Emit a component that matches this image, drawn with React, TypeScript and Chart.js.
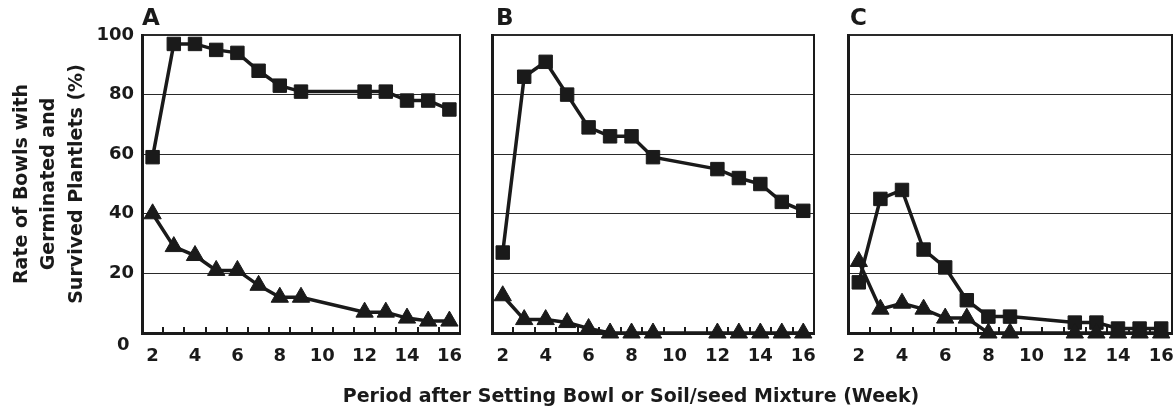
import React, { useEffect, useRef } from 'react';
import { Chart, registerables } from 'chart.js';

Chart.register(...registerables);

// ---------- data ----------
const weeks = [2, 3, 4, 5, 6, 7, 8, 9, 12, 13, 14, 15, 16];
const weekCategories = [2, 3, 4, 5, 6, 7, 8, 9, 10, 11, 12, 13, 14, 15, 16];
const xTickLabels = [2, 4, 6, 8, 10, 12, 14, 16];
const yTickValues = [0, 20, 40, 60, 80, 100];
const panelLabels = ['A', 'B', 'C'];

const squaresA = [59, 97, 97, 95, 94, 88, 83, 81, 81, 81, 78, 78, 75];
const trianglesA = [40, 29, 26, 21, 21, 16, 12, 12, 7, 7, 5, 4, 4];

const squaresB = [27, 86, 91, 80, 69, 66, 66, 59, 55, 52, 50, 44, 41];
const trianglesB = [12.5, 4.5, 4.5, 3.5, 1.5, 0, 0, 0, 0, 0, 0, 0, 0];

const squaresC = [17, 45, 48, 28, 22, 11, 5.5, 5.5, 3.5, 3.5, 1.5, 1.5, 1.5];
const trianglesC = [24, 8, 10, 8, 5, 5, 0, 0, 0, 0, 0, 0, 0];

const yAxisTitle = ['Rate of Bowls with', 'Germinated and', 'Survived Plantlets (%)'];
const xAxisTitle = 'Period after Setting Bowl or Soil/seed Mixture (Week)';

// ---------- style ----------
const FONT = "'DejaVu Sans', 'Liberation Sans', Arial, sans-serif";
const INK = '#1a1a1a';

const framePlugin = {
  id: 'frame',
  beforeDatasetsDraw(chart: any) {
    const { ctx, chartArea: a, scales } = chart;
    const x = scales.x;
    ctx.save();
    ctx.strokeStyle = INK;
    ctx.lineWidth = 2;
    ctx.beginPath();
    ctx.moveTo(a.right, a.top - 1);
    ctx.lineTo(a.right, a.bottom);
    ctx.stroke();
    ctx.beginPath();
    for (let i = 0; i < weekCategories.length - 1; i++) {
      const px = Math.round(x.getPixelForValue(weekCategories[i] + 0.5));
      ctx.moveTo(px, a.bottom);
      ctx.lineTo(px, a.bottom - 6);
    }
    ctx.stroke();
    ctx.restore();
  },
};

type PanelProps = {
  squares: number[];
  triangles: number[];
  left: number;
  width: number;
  yWidth: number;
  padRight: number;
  showY: boolean;
};

function Panel({ squares, triangles, left, width, yWidth, padRight, showY }: PanelProps) {
  const ref = useRef<HTMLCanvasElement>(null);
  useEffect(() => {
    if (!ref.current) return;
    const tickFont = { family: FONT, size: 18, weight: 'bold' as const };
    const chart = new Chart(ref.current, {
      type: 'line',
      data: {
        datasets: [
          {
            data: weeks.map((w, i) => ({ x: w, y: triangles[i] })),
            borderColor: INK,
            backgroundColor: INK,
            borderWidth: 3.5,
            pointStyle: 'triangle',
            pointRadius: 10,
            pointBorderWidth: 1,
            pointBackgroundColor: INK,
            pointBorderColor: INK,
            tension: 0,
            clip: false as any,
          },
          {
            data: weeks.map((w, i) => ({ x: w, y: squares[i] })),
            borderColor: INK,
            backgroundColor: INK,
            borderWidth: 3.5,
            pointStyle: 'rect',
            pointRadius: 9.5,
            pointBorderWidth: 1,
            pointBackgroundColor: INK,
            pointBorderColor: INK,
            tension: 0,
            clip: false as any,
          },
        ],
      },
      options: {
        animation: false,
        responsive: false,
        maintainAspectRatio: false,
        events: [],
        layout: { autoPadding: false, padding: { top: 35, bottom: 37, left: 0, right: padRight } },
        plugins: {
          legend: { display: false },
          tooltip: { enabled: false },
          title: { display: false },
        },
        scales: {
          x: {
            type: 'linear',
            min: 1.5,
            max: 16.5,
            afterBuildTicks: (s: any) => {
              s.ticks = xTickLabels.map((v) => ({ value: v }));
            },
            afterFit: (s: any) => {
              s.height = 40;
              s.paddingLeft = 0;
              s.paddingRight = 0;
            },
            grid: { display: false, drawTicks: false },
            border: { display: true, width: 3, color: INK },
            ticks: {
              font: tickFont,
              color: INK,
              padding: 13,
              autoSkip: false,
              maxRotation: 0,
              callback: (v: any) => String(v),
            },
          },
          y: {
            type: 'linear',
            min: 0,
            max: 100,
            afterBuildTicks: (s: any) => {
              s.ticks = yTickValues.map((v) => ({ value: v }));
            },
            afterFit: (s: any) => {
              s.width = yWidth;
              s.paddingTop = 0;
              s.paddingBottom = 0;
            },
            grid: {
              color: '#2a2a2a',
              lineWidth: (c: any) => (c.tick && c.tick.value === 100 ? 2 : 1),
              drawTicks: false,
            },
            border: { display: true, width: 3, color: INK },
            ticks: {
              display: showY,
              padding: 8,
              font: tickFont,
              color: (c: any) => (c.tick && c.tick.value === 0 ? 'rgba(0,0,0,0)' : INK),
            },
            title: {
              display: showY,
              text: yAxisTitle,
              color: INK,
              font: { family: FONT, size: 19, weight: 'bold', lineHeight: 1.45 },
              padding: { top: 8, bottom: 0 },
            },
          },
        },
      },
      plugins: [framePlugin],
    });
    return () => chart.destroy();
  }, [squares, triangles, yWidth, padRight, showY]);

  return (
    <canvas
      ref={ref}
      width={width}
      height={410}
      style={{ position: 'absolute', left, top: 0, width, height: 410, display: 'block' }}
    />
  );
}

const letterStyle: React.CSSProperties = {
  position: 'absolute',
  top: 6,
  fontFamily: FONT,
  fontWeight: 'bold',
  fontSize: 23,
  lineHeight: '23px',
  color: INK,
  margin: 0,
};

export default function App() {
  return (
    <div
      style={{
        position: 'absolute',
        left: 0,
        top: 0,
        width: 1176,
        height: 410,
        background: '#ffffff',
        overflow: 'hidden',
      }}
    >
      <Panel squares={squaresA} triangles={trianglesA} left={0} width={470} yWidth={142} padRight={10} showY={true} />
      <Panel squares={squaresB} triangles={trianglesB} left={480} width={345} yWidth={12} padRight={11} showY={false} />
      <Panel squares={squaresC} triangles={trianglesC} left={836} width={340} yWidth={12} padRight={4} showY={false} />

      <div style={{ ...letterStyle, left: 142 }}>{panelLabels[0]}</div>
      <div style={{ ...letterStyle, left: 496 }}>{panelLabels[1]}</div>
      <div style={{ ...letterStyle, left: 850 }}>{panelLabels[2]}</div>

      <div
        style={{
          position: 'absolute',
          left: 117,
          top: 335,
          fontFamily: FONT,
          fontWeight: 'bold',
          fontSize: 18,
          lineHeight: '18px',
          color: INK,
        }}
      >
        {String(yTickValues[0])}
      </div>

      <div
        style={{
          position: 'absolute',
          left: 331,
          width: 600,
          top: 386,
          textAlign: 'center',
          fontFamily: FONT,
          fontWeight: 'bold',
          fontSize: 19,
          lineHeight: '19px',
          color: INK,
          whiteSpace: 'nowrap',
        }}
      >
        {xAxisTitle}
      </div>
    </div>
  );
}
